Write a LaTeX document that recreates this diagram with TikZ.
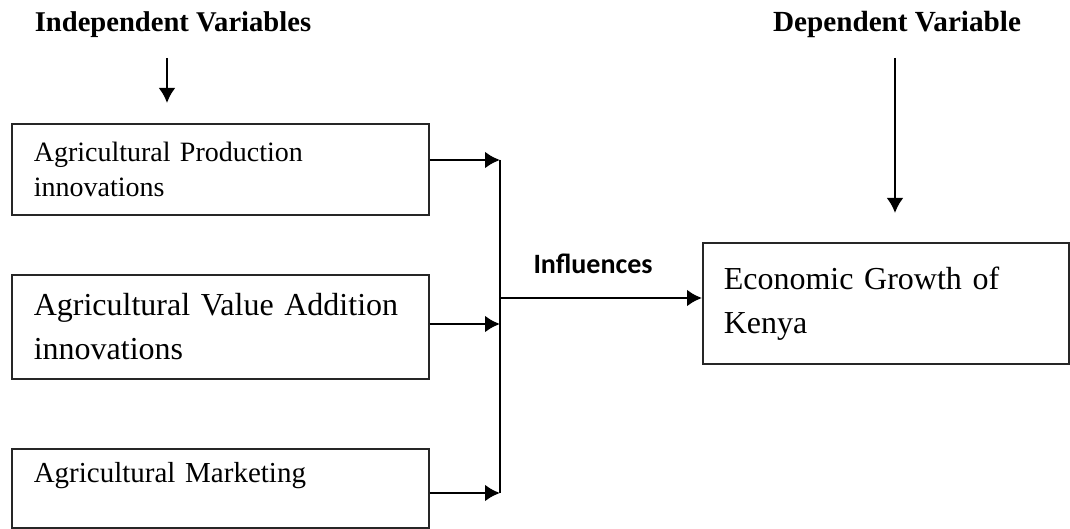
\documentclass[tikz,border=0pt]{standalone}
\usepackage{fontspec}
\setmainfont{Liberation Serif}
\newfontfamily\labelfont{Carlito}
\usetikzlibrary{arrows.meta}

\begin{document}
\begin{tikzpicture}[x=0.5pt, y=-0.5pt, >={Latex[length=7.5pt,width=8.5pt]},
                    box/.style={draw=black!85, line width=0.8pt, anchor=north west, align=left, inner xsep=11pt, inner ysep=0pt},
                    link/.style={->, line width=1.4pt}]
                    \useasboundingbox (0,0) rectangle (1070,529);

                    % Headings
                    \node[font=\fontsize{14.3}{17}\selectfont\bfseries, anchor=base] (Head-IV) at (173,32) {Independent Variables};
                    \node[font=\fontsize{14.6}{17}\selectfont\bfseries, anchor=base] (Head-DV) at (897,32) {Dependent Variable};

                    % Independent variables
                    \node[box, font=\fontsize{14}{17.5}\selectfont, text width=186.5pt, minimum height=45.5pt] (IV-1) at (11,123) {Agricultural Production\\innovations};
                    \node[box, font=\fontsize{16}{22}\selectfont, text width=186.5pt, minimum height=52pt] (IV-2) at (11,274) {Agricultural Value Addition\\innovations};
                    \node[box, font=\fontsize{14.5}{17.5}\selectfont, text width=186.5pt, minimum height=39.5pt] (IV-3) at (11,448) {Agricultural Marketing\\[-7pt]\strut};

                    % Dependent variable
                    \node[box, font=\fontsize{16}{22}\selectfont, inner xsep=10.5pt, text width=162pt, minimum height=60.5pt] (DV) at (702,242) {Economic Growth of\\Kenya};

                    % Heading arrows
                    \coordinate (IV-start) at (167,58);
                    \coordinate (IV-tip) at (167,103);
                    \coordinate (DV-start) at (895,58);
                    \coordinate (DV-tip) at (895,213);
                    \draw[link] (IV-start) -- (IV-tip);
                    \draw[link] (DV-start) -- (DV-tip);

                    % Joining line
                    \coordinate (Bus-1) at (500,160);
                    \coordinate (Bus-2) at (500,324);
                    \coordinate (Bus-3) at (500,493);
                    \coordinate (Bus-out) at (500,298);
                    \foreach \i in {1,...,3}
                    {
                        \draw[link] (IV-\i.east |- Bus-\i) -- (Bus-\i);
                    }
                    \draw[line width=1.4pt] (Bus-1) -- (Bus-3);

                    % Output
                    \draw[link] (Bus-out) -- (DV.west |- Bus-out);
                    \node[font=\fontsize{14}{17}\selectfont\labelfont\bfseries] (Influences) at (593,264) {Influences};
                \end{tikzpicture}
\end{document}
